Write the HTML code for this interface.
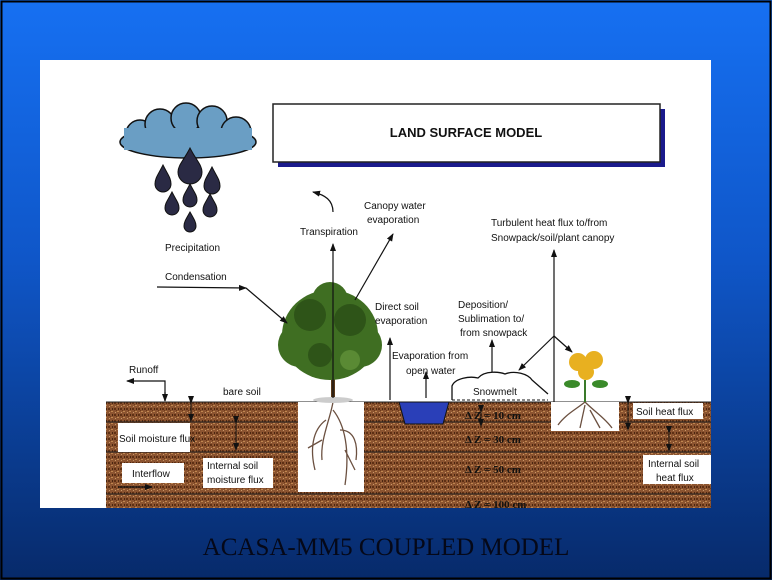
<!DOCTYPE html>
<html><head><meta charset="utf-8"><style>
html,body{margin:0;padding:0;width:772px;height:580px;overflow:hidden;background:#0b3a9a}
svg{display:block}
text{font-family:"Liberation Sans",sans-serif;font-size:10px;fill:#111}
</style></head><body>
<svg width="772" height="580" viewBox="0 0 772 580" xmlns="http://www.w3.org/2000/svg">
<defs>
<linearGradient id="bg" x1="0" y1="0" x2="0" y2="1">
<stop offset="0" stop-color="#1670f2"/><stop offset="0.45" stop-color="#0f56c8"/><stop offset="1" stop-color="#072a6a"/>
</linearGradient>
<pattern id="soil" width="6" height="6" patternUnits="userSpaceOnUse">
<rect width="6" height="6" fill="#8c5430"/>
<rect x="0" y="0" width="2" height="2" fill="#5e3014"/><rect x="3" y="3" width="2" height="1" fill="#c08850"/>
<rect x="4" y="0" width="1" height="2" fill="#4a2610"/><rect x="1" y="4" width="1" height="1" fill="#c89868"/>
<rect x="2" y="2" width="1" height="1" fill="#6e3a18"/>
</pattern>
<marker id="ah" markerWidth="8" markerHeight="8" refX="7" refY="4" orient="auto" markerUnits="userSpaceOnUse">
<path d="M0,1 L8,4 L0,7 Z" fill="#111"/></marker>
</defs>
<rect width="772" height="580" fill="url(#bg)"/>
<rect x="1.5" y="1.5" width="769" height="577" fill="none" stroke="#000" stroke-width="2"/>
<rect x="40" y="60" width="671" height="448" fill="#fff"/>
<!-- title box -->
<rect x="278" y="109" width="387" height="58" fill="#1a1a8c"/>
<rect x="273" y="104" width="387" height="58" fill="#fff" stroke="#222" stroke-width="1.5"/>
<text x="466" y="137" text-anchor="middle" style="font-size:13px;font-weight:bold">LAND SURFACE MODEL</text>
<!-- soil -->
<rect x="106" y="402" width="605" height="106" fill="url(#soil)"/>
<g stroke="#222" stroke-width="1"><line x1="106" y1="402" x2="711" y2="402"/><line x1="106" y1="422" x2="711" y2="422"/><line x1="106" y1="452" x2="711" y2="452"/><line x1="106" y1="494" x2="711" y2="494"/></g>
<rect x="298" y="402" width="66" height="90" fill="#fff"/>
<rect x="551" y="402" width="68" height="29" fill="#fff"/>
<g stroke="#6b5040" stroke-width="1.3" fill="none">
<path d="M333,402 C330,420 320,440 322,460 M333,410 C345,425 350,450 345,485 M326,420 C312,430 310,450 315,470 M340,430 C355,430 358,445 356,460 M322,440 L308,448 M345,450 L355,470"/>
<path d="M585,402 C575,410 565,415 558,425 M585,402 C595,412 605,418 612,428 M585,405 L580,428 M590,410 L600,428"/>
</g>
<!-- water -->
<path d="M399,402 L449,402 L443,424 L405,424 Z" fill="#2a3fb8" stroke="#111"/>
<!-- cloud -->
<g fill="#6a9ec4" stroke="#111" stroke-width="1.5">
<ellipse cx="188" cy="142" rx="68" ry="16"/>
<circle cx="140" cy="134" r="14"/><circle cx="160" cy="124" r="15"/><circle cx="186" cy="118" r="15"/><circle cx="212" cy="121" r="15"/><circle cx="236" cy="132" r="15"/>
</g>
<rect x="124" y="128" width="128" height="22" fill="#6a9ec4"/>
<g fill="#2a2a44" stroke="#111">
<path d="M190,148 C184,160 178,165 178,172 a12,12 0 0 0 24,0 C202,165 196,160 190,148Z"/>
<path d="M163,165 C158,175 155,178 155,184 a8,8 0 0 0 16,0 C171,178 168,175 163,165Z"/>
<path d="M212,167 C207,177 204,180 204,186 a8,8 0 0 0 16,0 C220,180 217,177 212,167Z"/>
<path d="M172,192 C168,200 165,203 165,208 a7,7 0 0 0 14,0 C179,203 176,200 172,192Z"/>
<path d="M190,184 C186,192 183,195 183,200 a7,7 0 0 0 14,0 C197,195 194,192 190,184Z"/>
<path d="M210,194 C206,202 203,205 203,210 a7,7 0 0 0 14,0 C217,205 214,202 210,194Z"/>
<path d="M190,212 C186,219 184,222 184,226 a6,6 0 0 0 12,0 C196,222 194,219 190,212Z"/>
</g>
<!-- tree -->
<line x1="333" y1="340" x2="333" y2="400" stroke="#5a3a1a" stroke-width="4"/>
<g fill="#3f6e22">
<ellipse cx="330" cy="335" rx="48" ry="45"/><circle cx="300" cy="345" r="22"/><circle cx="360" cy="345" r="22"/><circle cx="330" cy="300" r="18"/><circle cx="310" cy="315" r="16" fill="#2e5418"/><circle cx="350" cy="320" r="16" fill="#2e5418"/><circle cx="320" cy="355" r="12" fill="#2e5418"/><circle cx="350" cy="360" r="10" fill="#5a8a34"/>
</g>
<ellipse cx="333" cy="400" rx="20" ry="3" fill="#ccc"/>
<!-- flower -->
<line x1="585" y1="380" x2="585" y2="402" stroke="#3a7a2a" stroke-width="2"/>
<g fill="#e8b020"><circle cx="578" cy="362" r="9"/><circle cx="594" cy="360" r="9"/><circle cx="586" cy="372" r="8"/></g>
<g fill="#3a8a2a"><ellipse cx="572" cy="384" rx="8" ry="4"/><ellipse cx="600" cy="384" rx="8" ry="4"/></g>
<!-- snowmelt cloud -->
<path d="M452,400 L452,386 C455,378 470,376 478,378 C485,370 500,372 505,374 C515,370 528,374 532,380 L548,394" fill="#fff" stroke="#111" stroke-width="1.3"/>
<line x1="452" y1="400" x2="548" y2="400" stroke="#111" stroke-dasharray="3,2"/>
<!-- arrows -->
<g stroke="#111" stroke-width="1.2" fill="none" marker-end="url(#ah)">
<path d="M157,287 L246,288"/>
<path d="M246,288 L287,323"/>
<path d="M333,398 L333,244"/>
<path d="M333,212 C333,200 325,195 313,192"/>
<path d="M355,300 L393,234"/>
<path d="M390,400 L390,338"/>
<path d="M426,398 L426,372"/>
<path d="M492,372 L492,340"/>
<path d="M554,402 L554,250"/>
<path d="M554,336 L519,370"/>
<path d="M554,336 L572,352"/>
<path d="M165,401 L165,381 L127,381"/>
<path d="M165,392 L165,401"/>
<path d="M118,487 L152,487"/>
</g>
<g stroke="#111" stroke-width="1" fill="none" marker-start="url(#ah)" marker-end="url(#ah)">
<path d="M191,403 L191,421"/><path d="M236,423 L236,450"/><path d="M628,403 L628,430"/><path d="M669,433 L669,451"/><path d="M481,412 L481,426"/>
</g>
<!-- labels -->
<text x="165" y="251">Precipitation</text>
<text x="300" y="235">Transpiration</text>
<text x="364" y="209">Canopy water</text><text x="367" y="223">evaporation</text>
<text x="491" y="226">Turbulent heat flux to/from</text><text x="491" y="241">Snowpack/soil/plant canopy</text>
<text x="165" y="280">Condensation</text>
<text x="375" y="310">Direct soil</text><text x="375" y="324">evaporation</text>
<text x="458" y="308">Deposition/</text><text x="458" y="322">Sublimation to/</text><text x="460" y="336">from snowpack</text>
<text x="392" y="359">Evaporation from</text><text x="406" y="374">open water</text>
<text x="129" y="373">Runoff</text>
<text x="223" y="395">bare soil</text>
<text x="473" y="395">Snowmelt</text>
<text x="465" y="419" style="font-family:'Liberation Serif',serif;font-size:11px;font-weight:bold">Δ Z = 10 cm</text>
<text x="465" y="443" style="font-family:'Liberation Serif',serif;font-size:11px;font-weight:bold">Δ Z = 30 cm</text>
<text x="465" y="473" style="font-family:'Liberation Serif',serif;font-size:11px;font-weight:bold">Δ Z = 50 cm</text>
<text x="465" y="508" style="font-family:'Liberation Serif',serif;font-size:11px;font-weight:bold">Δ Z = 100 cm</text>
<rect x="633" y="403" width="70" height="16" fill="#fff"/><text x="636" y="415">Soil heat flux</text>
<rect x="118" y="423" width="72" height="29" fill="#fff"/><text x="119" y="442">Soil moisture flux</text>
<rect x="122" y="463" width="62" height="20" fill="#fff"/><text x="132" y="477">Interflow</text>
<rect x="203" y="458" width="70" height="30" fill="#fff"/><text x="207" y="469">Internal soil</text><text x="207" y="483">moisture flux</text>
<rect x="643" y="455" width="68" height="29" fill="#fff"/><text x="648" y="467">Internal soil</text><text x="656" y="481">heat flux</text>
<text x="386" y="555" text-anchor="middle" style="font-family:'Liberation Serif',serif;font-size:25px;fill:#050818">ACASA-MM5 COUPLED MODEL</text>
</svg>
</body></html>
